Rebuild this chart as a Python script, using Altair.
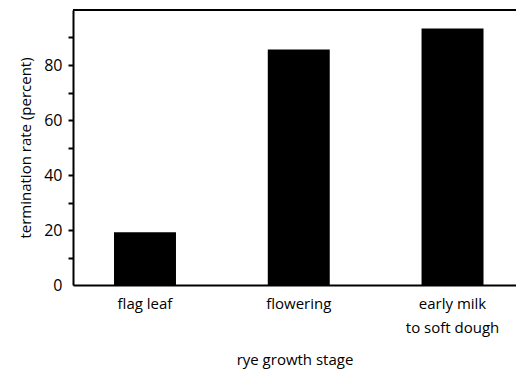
import altair as alt
import pandas as pd

stages = ["flag leaf", "flowering", "early milk\nto soft dough"]
rates = [19.2, 85.6, 93.3]

df = pd.DataFrame({"stage": stages, "rate": rates})

FONT = "Open Sans"
W = 443
H = 275

bars = alt.Chart(df).mark_bar(color="black").encode(
    x=alt.X(
        "stage:N",
        sort=stages,
        title="rye growth stage",
        scale=alt.Scale(paddingInner=0.597, paddingOuter=0.239, align=0.558),
        axis=alt.Axis(
            labelAngle=0,
            ticks=False,
            labelPadding=11,
            labelLineHeight=24,
            labelFontSize=15,
            labelExpr="split(datum.label, '\\n')",
            titlePadding=17,
        ),
    ),
    y=alt.Y(
        "rate:Q",
        title="termination rate (percent)",
        scale=alt.Scale(domain=[0, 100], nice=False),
        axis=alt.Axis(
            values=[0, 10, 20, 30, 40, 50, 60, 70, 80, 90],
            labelExpr="datum.value % 20 == 0 ? datum.label : ''",
            tickSize=5,
            tickWidth=2,
            tickOpacity={"condition": {"test": "datum.value == 0", "value": 0}, "value": 1},
            labelPadding=6,
            labelFontSize=16,
            titlePadding=10,
            grid=False,
        ),
    ),
)

top_line = alt.Chart(df).mark_rule(color="black", strokeWidth=2).encode(
    x=alt.value(0), x2=alt.value(W), y=alt.value(0)
)

chart = alt.layer(bars, top_line).properties(
    width=W,
    height=H,
    background="white",
    autosize=alt.AutoSizeParams(type="none"),
    padding={"left": 65, "top": 2, "right": 0, "bottom": 85},
).configure_view(
    stroke=None
).configure_axis(
    domainColor="black",
    domainWidth=2,
    tickColor="black",
    labelColor="black",
    titleColor="black",
    labelFont=FONT,
    titleFont=FONT,
    titleFontSize=15,
    titleFontWeight="normal",
)

chart.save("out.html", embed_options={"renderer": "svg", "actions": False})
